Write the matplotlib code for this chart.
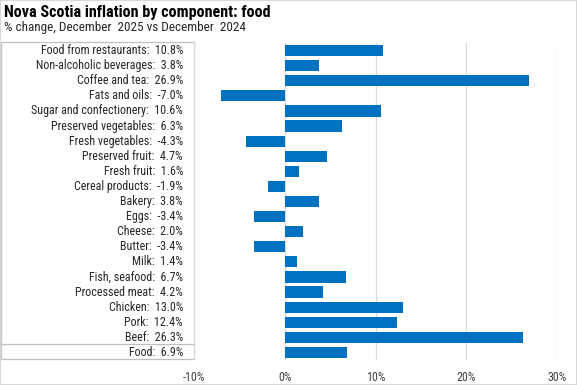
import matplotlib
matplotlib.use("Agg")
import matplotlib.pyplot as plt
from matplotlib.patches import Rectangle
from matplotlib.lines import Line2D
from matplotlib import font_manager
from matplotlib.font_manager import FontProperties

categories = ["Food from restaurants", "Non-alcoholic beverages", "Coffee and tea",
              "Fats and oils", "Sugar and confectionery", "Preserved vegetables",
              "Fresh vegetables", "Preserved fruit", "Fresh fruit", "Cereal products",
              "Bakery", "Eggs", "Cheese", "Butter", "Milk", "Fish, seafood",
              "Processed meat", "Chicken", "Pork", "Beef", "Food"]
values = [10.8, 3.8, 26.9, -7.0, 10.6, 6.3, -4.3, 4.7, 1.6, -1.9,
          3.8, -3.4, 2.0, -3.4, 1.4, 6.7, 4.2, 13.0, 12.4, 26.3, 6.9]
xticks = [-10, 0, 10, 20, 30]

# look for a narrow/condensed font file
def find_font(bold=False):
    cands = []
    for f in font_manager.fontManager.ttflist:
        nm = f.fname.lower()
        if ("narrow" in nm or "condensed" in nm) and "italic" not in nm and "oblique" not in nm:
            isbold = "bold" in nm
            if isbold == bold:
                cands.append(f.fname)
    pref = ["liberationsansnarrow", "robotocondensed", "opensans_condensed", "opensanscondensed",
            "dejavusanscondensed", "notosans-condensed", "notosanscondensed"]
    for p in pref:
        for c in cands:
            base = c.lower().split("/")[-1].replace("_", "").replace("-", "")
            if base.startswith(p.replace("_", "").replace("-", "")):
                if not bold and ("semi" in base or "light" in base or "medium" in base or "black" in base or "thin" in base or "extra" in base):
                    continue
                return FontProperties(fname=c)
    for c in cands:
        return FontProperties(fname=c)
    return FontProperties(family="Liberation Sans", weight="bold" if bold else "normal")

fp_reg = find_font(False)
fp_bold = find_font(True)

W, H = 577, 385
fig = plt.figure(figsize=(W/100, H/100), dpi=100)
renderer = fig.canvas.get_renderer()

def fit(t, target_w):
    bb = t.get_window_extent(renderer)
    t.set_fontsize(t.get_fontsize() * target_w / bb.width)

ax = fig.add_axes([194/W, 1-360/H, (557-194)/W, (360-43)/H])
ax.set_zorder(1)

y = list(range(len(categories)))
ax.barh(y, values, height=0.74, color="#0070C0", zorder=3)
ax.set_xlim(-10, 30)
ax.set_ylim(len(categories)-0.5, -0.5)
ax.set_xticks(xticks)
ax.set_yticks([])
for s in ax.spines.values():
    s.set_visible(False)
ax.grid(axis="x", color="#D9D9D9", linewidth=0.9, zorder=0)
ax.tick_params(axis="x", length=0, pad=8)
ax.patch.set_alpha(0)

# labels as text at right edge of label box
ref = None
labels = []
for i, (c, v) in enumerate(zip(categories, values)):
    t = ax.text(-10, i, f"{c}:  {v:.1f}%", transform=ax.transData, ha="right", va="center",
                fontproperties=fp_reg, fontsize=9.5, color="#262626", clip_on=False)
    t.set_x(-10 - 11 * 40 / (557 - 194))
    labels.append(t)
fit(labels[0], 143)
for t in labels[1:]:
    t.set_fontsize(labels[0].get_fontsize())

ax.set_xticklabels([f"{t}%" for t in xticks], fontproperties=fp_reg, color="#404040")
for lab in ax.get_xticklabels():
    lab.set_fontsize(labels[0].get_fontsize())

# label box (behind)
fig.add_artist(Rectangle((0.5/W, 1-359/H), 193.5/W, (359-42)/H, transform=fig.transFigure,
                         fill=False, edgecolor="#BFBFBF", linewidth=0.9, zorder=0))
fig.add_artist(Line2D([0.5/W, 194/W], [1-344/H, 1-344/H], transform=fig.transFigure,
                      color="#BFBFBF", linewidth=0.9, zorder=0))

t1 = fig.text(4/W, 1-13/H, "Nova Scotia inflation by component: food", fontproperties=fp_bold,
              fontsize=12.5, va="center", color="black")
fit(t1, 268)
t2 = fig.text(4/W, 1-28/H, "% change, December  2025 vs December  2024", fontproperties=fp_reg,
              fontsize=9.5, va="center", color="#262626")
fit(t2, 244)

fig.add_artist(Rectangle((0, 0), 1, 1, transform=fig.transFigure, fill=False,
                         edgecolor="#D9D9D9", linewidth=1.5))
fig.savefig("out.png", dpi=100)
